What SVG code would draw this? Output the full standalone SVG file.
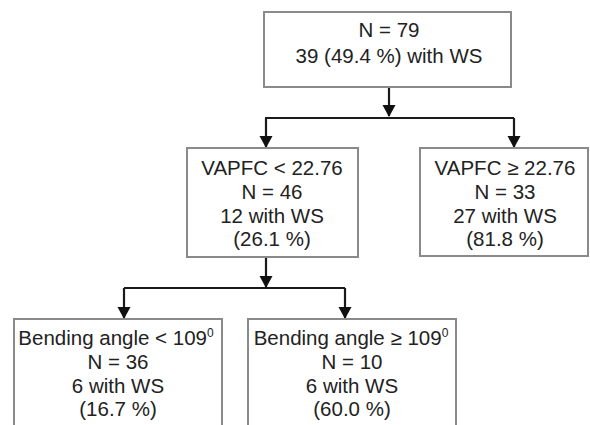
<svg xmlns="http://www.w3.org/2000/svg" width="590" height="425" viewBox="0 0 590 425">
<style>
.box{fill:#fff;stroke:#8a8a8a;stroke-width:2}
.t{font-family:"Liberation Sans",Arial,sans-serif;font-size:20.5px;fill:#222;text-anchor:middle}
.sup{font-size:12px}
.c{fill:none;stroke:#1a1a1a;stroke-width:2.2}
.ah{fill:#111}
</style>
<defs>
<path id="head" d="M-6.5,-12 H6.5 L0,0 Z"/>
</defs>
<rect width="590" height="425" fill="#fff"/>
<g id="connectors">
<path class="c" d="M389,87 V116"/>
<path class="c" d="M389,118 H265 M389,118 H514"/>
<path class="c" d="M266,118 V147"/>
<path class="c" d="M514,118 V147"/>
<path class="c" d="M266,257 V287"/>
<path class="c" d="M266,288 H124 M266,288 H345"/>
<path class="c" d="M124,288 V318"/>
<path class="c" d="M345,288 V318"/>
<use href="#head" class="ah" x="389" y="117"/>
<use href="#head" class="ah" x="266" y="148"/>
<use href="#head" class="ah" x="514" y="148"/>
<use href="#head" class="ah" x="266" y="288"/>
<use href="#head" class="ah" x="124" y="319"/>
<use href="#head" class="ah" x="345" y="319"/>
</g>
<g id="root">
<rect class="box" x="264" y="12" width="247" height="75"/>
<text class="t" x="389" y="37">N = 79</text>
<text class="t" x="389" y="63">39 (49.4 %) with WS</text>
</g>
<g id="vapfc-low">
<rect class="box" x="187" y="148" width="171" height="109"/>
<text class="t" x="272" y="175">VAPFC &lt; 22.76</text>
<text class="t" x="272" y="199">N = 46</text>
<text class="t" x="272" y="223">12 with WS</text>
<text class="t" x="272" y="246">(26.1 %)</text>
</g>
<g id="vapfc-high">
<rect class="box" x="420" y="148" width="168" height="108"/>
<text class="t" x="505" y="175">VAPFC ≥ 22.76</text>
<text class="t" x="505" y="199">N = 33</text>
<text class="t" x="505" y="223">27 with WS</text>
<text class="t" x="505" y="246">(81.8 %)</text>
</g>
<g id="angle-low">
<rect class="box" x="14" y="319" width="208" height="120"/>
<text class="t" x="116" y="345">Bending angle &lt; 109<tspan class="sup" dy="-8">0</tspan></text>
<text class="t" x="118" y="369">N = 36</text>
<text class="t" x="118" y="393">6 with WS</text>
<text class="t" x="118" y="416">(16.7 %)</text>
</g>
<g id="angle-high">
<rect class="box" x="248" y="319" width="208" height="120"/>
<text class="t" x="351" y="345">Bending angle ≥ 109<tspan class="sup" dy="-8">0</tspan></text>
<text class="t" x="352" y="369">N = 10</text>
<text class="t" x="352" y="393">6 with WS</text>
<text class="t" x="352" y="416">(60.0 %)</text>
</g>
</svg>
